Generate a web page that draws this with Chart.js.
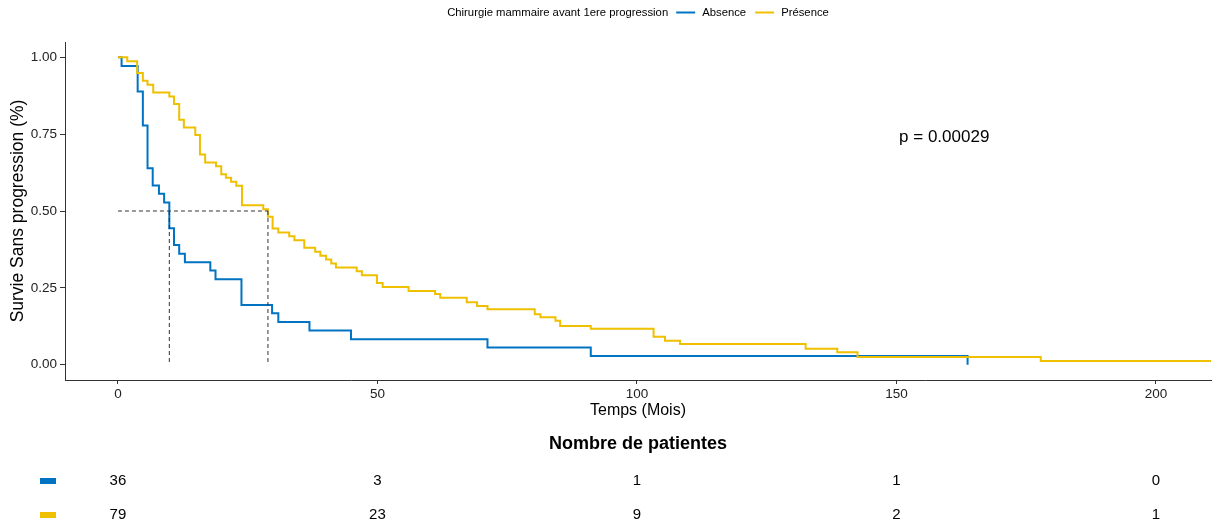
<!DOCTYPE html>
<html>
<head>
<meta charset="utf-8">
<script src="https://cdn.jsdelivr.net/npm/chart.js@4.4.1/dist/chart.umd.min.js"></script>
<style>
  html, body { margin: 0; padding: 0; background: #fff; }
  canvas { display: block; }
</style>
</head>
<body>
<canvas id="km_chart" width="1213" height="529"></canvas>
<script>
// Kaplan-Meier steps (time in months, survival fraction)
const absenceTime = [0, 0.7, 3.8, 4.8, 5.7, 6.7, 7.9, 8.9, 9.9, 10.8, 11.8, 12.9, 17.8, 18.8, 23.8, 29.7, 30.9, 36.9, 44.9, 71.2, 91.1, 163.7];
const absenceSurv = [1, 0.972, 0.889, 0.778, 0.639, 0.583, 0.556, 0.528, 0.444, 0.389, 0.361, 0.333, 0.306, 0.278, 0.194, 0.167, 0.139, 0.111, 0.083, 0.056, 0.028, 0];

const presenceTime = [0, 1.8, 3.7, 4.8, 5.7, 6.8, 9.9, 10.8, 11.8, 12.7, 14.9, 15.8, 16.8, 18.9, 19.9, 20.8, 21.8, 22.8, 23.9, 28.0, 28.9, 29.8, 30.9, 33.0, 34.0, 35.9, 38.0, 39.0, 40.1, 41.1, 42.0, 46.0, 47.0, 49.9, 51.0, 56.0, 61.1, 62.1, 67.2, 69.2, 71.2, 80.3, 81.4, 84.3, 85.2, 91.1, 103.2, 105.4, 108.3, 132.5, 138.6, 142.5, 177.8, 215];
const presenceSurv = [1, 0.987, 0.949, 0.924, 0.911, 0.886, 0.873, 0.848, 0.797, 0.772, 0.747, 0.684, 0.658, 0.646, 0.620, 0.608, 0.595, 0.582, 0.519, 0.506, 0.481, 0.443, 0.430, 0.418, 0.405, 0.380, 0.367, 0.354, 0.342, 0.329, 0.316, 0.304, 0.291, 0.266, 0.253, 0.240, 0.230, 0.218, 0.203, 0.191, 0.180, 0.164, 0.154, 0.143, 0.126, 0.117, 0.091, 0.078, 0.067, 0.052, 0.040, 0.025, 0.012, 0.012];

const medianTime = [9.9, 28.9]; // Absence, Présence

// number at risk table
const riskTimes = [0, 50, 100, 150, 200];
const absenceRisk = [36, 3, 1, 1, 0];
const presenceRisk = [79, 23, 9, 2, 1];

const xTicks = [0, 50, 100, 150, 200];
const yTicks = [0, 0.25, 0.5, 0.75, 1];

const legendTitle = "Chirurgie mammaire avant 1ere progression";
const groupNames = ["Absence", "Présence"];
const groupColors = ["#0073C2", "#EFC000"];
const pValueText = "p = 0.00029";
const pValueAt = [150.5, 0.74];
const riskTitle = "Nombre de patientes";

const FONT = "'Liberation Sans', Arial, sans-serif";
Chart.defaults.font.family = FONT;

function toPoints(times, values) {
    return times.map((t, i) => ({ x: t, y: values[i] }));
}

// Legend line, p-value and risk table drawn with the chart's own scales
const kmExtras = {
    id: "kmExtras",
    afterDraw(chart) {
        const ctx = chart.ctx;
        const xs = chart.scales.x;
        const ys = chart.scales.y;
        const area = chart.chartArea;
        const mid = (area.left + area.right) / 2;
        ctx.save();

        // top legend
        ctx.font = "11.3px " + FONT;
        ctx.textBaseline = "middle";
        ctx.textAlign = "left";
        ctx.fillStyle = "#000";
        const lineLen = 19;
        let total = ctx.measureText(legendTitle).width;
        groupNames.forEach((n, i) => {
            total += (i === 0 ? 8 : 9) + lineLen + 7 + ctx.measureText(n).width;
        });
        let cx = mid - total / 2;
        const ly = 12.5;
        ctx.fillText(legendTitle, cx, ly);
        cx += ctx.measureText(legendTitle).width;
        groupNames.forEach((n, i) => {
            cx += (i === 0 ? 8 : 9);
            ctx.strokeStyle = groupColors[i];
            ctx.lineWidth = 2;
            ctx.beginPath();
            ctx.moveTo(cx, ly);
            ctx.lineTo(cx + lineLen, ly);
            ctx.stroke();
            cx += lineLen + 7;
            ctx.fillText(n, cx, ly);
            cx += ctx.measureText(n).width;
        });

        // p-value
        ctx.font = "17px " + FONT;
        ctx.fillText(pValueText, xs.getPixelForValue(pValueAt[0]), ys.getPixelForValue(pValueAt[1]));

        // risk table
        ctx.textAlign = "center";
        ctx.font = "bold 18px " + FONT;
        ctx.fillText(riskTitle, mid, 444);
        ctx.font = "15px " + FONT;
        [absenceRisk, presenceRisk].forEach((row, g) => {
            const ry = 481 + g * 34;
            ctx.fillStyle = groupColors[g];
            ctx.fillRect(40, ry - 3, 16, 6);
            ctx.fillStyle = "#000";
            row.forEach((n, i) => {
                ctx.fillText(String(n), xs.getPixelForValue(riskTimes[i]), ry);
            });
        });
        ctx.restore();
    }
};

const dashStyle = {
    borderColor: "#333",
    borderWidth: 1,
    borderDash: [4, 3],
    pointRadius: 0,
    fill: false
};

const medianSets = [
    Object.assign({ data: [{ x: 0, y: 0.5 }, { x: Math.max(...medianTime), y: 0.5 }] }, dashStyle)
].concat(medianTime.map(m => Object.assign({ data: [{ x: m, y: 0.5 }, { x: m, y: 0 }] }, dashStyle)));

const ctx = document.getElementById("km_chart").getContext("2d");
new Chart(ctx, {
    type: "line",
    data: {
        datasets: medianSets.concat([
            {
                label: groupNames[1],
                data: toPoints(presenceTime, presenceSurv),
                stepped: "before",
                borderColor: groupColors[1],
                borderWidth: 2,
                pointRadius: 0,
                fill: false
            },
            {
                label: groupNames[0],
                data: toPoints(absenceTime, absenceSurv),
                stepped: "before",
                borderColor: groupColors[0],
                borderWidth: 2,
                pointRadius: 0,
                fill: false
            }
        ])
    },
    options: {
        responsive: false,
        animation: false,
        layout: { padding: { top: 42, right: 2, bottom: 104, left: 0 } },
        plugins: {
            legend: { display: false },
            tooltip: { enabled: false }
        },
        scales: {
            x: {
                type: "linear",
                min: -10.2,
                max: 210.6,
                afterBuildTicks: s => { s.ticks = xTicks.map(v => ({ value: v })); },
                afterFit: s => { s.height = 45; },
                ticks: { color: "#222", font: { size: 13.5 }, padding: 2, maxRotation: 0 },
                grid: { display: true, drawOnChartArea: false, drawTicks: true, tickLength: 4, color: "#333" },
                border: { display: true, color: "#333", width: 1 },
                title: { display: true, text: "Temps (Mois)", color: "#000", font: { size: 16 }, padding: { top: 0, bottom: 5 } }
            },
            y: {
                type: "linear",
                min: -0.05,
                max: 1.05,
                afterBuildTicks: s => { s.ticks = yTicks.map(v => ({ value: v })); },
                afterFit: s => { s.width = 65; },
                ticks: { color: "#222", font: { size: 13.5 }, padding: 3, callback: v => v.toFixed(2) },
                grid: { display: true, drawOnChartArea: false, drawTicks: true, tickLength: 5, color: "#333" },
                border: { display: true, color: "#333", width: 1 },
                title: { display: true, text: "Survie Sans progression (%)", color: "#000", font: { size: 17.5 }, padding: { top: 8, bottom: 0 } }
            }
        }
    },
    plugins: [kmExtras]
});
</script>
</body>
</html>
